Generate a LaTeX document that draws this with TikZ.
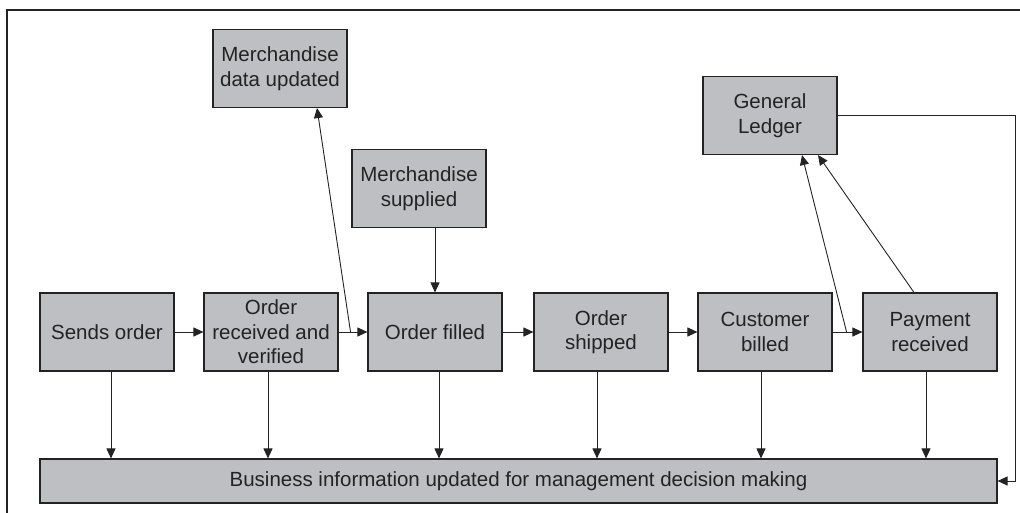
\documentclass[tikz,border=0pt]{standalone}
\usepackage{fontspec}
\setmainfont{Liberation Sans}
\usetikzlibrary{arrows.meta,calc}
\definecolor{boxfill}{RGB}{190,191,195}
\definecolor{ink}{RGB}{35,35,35}
\begin{document}
\begin{tikzpicture}[x=1pt,y=-1pt,
  box/.style={draw=ink,line width=1.1pt,fill=boxfill,minimum width=134pt,minimum height=78pt,
    inner sep=2pt,align=center,text=ink,font=\fontsize{20.5}{24.5}\selectfont},
  conn/.style={draw=ink,line width=0.9pt,-{Triangle[length=10pt,width=9pt]}},
  plain/.style={draw=ink,line width=0.9pt}]
\useasboundingbox (0,0) rectangle (1020,512);
\draw[line width=2pt,ink] (1022,10) -- (7,10) -- (7,514);
% main row
\node[box] (so) at (107,332) {Sends order};
\node[box] (or) at (271,332) {Order\\received and\\verified};
\node[box] (of) at (435,332) {Order filled};
\node[box] (os) at (601,332) {Order\\shipped};
\node[box] (cb) at (765,332) {Customer\\billed};
\node[box] (pr) at (930,332) {Payment\\received};
% upper boxes
\node[box] (mdu) at (280,68.5) {Merchandise\\data updated};
\node[box] (ms) at (419,188.5) {Merchandise\\supplied};
\node[box] (gl) at (770,115.5) {General\\Ledger};
% bar
\node[box,minimum width=957pt,minimum height=44pt] (bi) at (518.5,481) {Business information updated for management decision making};
% horizontal flow
\draw[conn] (so.east) -- (or.west);
\draw[conn] (or.east) -- (of.west);
\draw[conn] (of.east) -- (os.west);
\draw[conn] (os.east) -- (cb.west);
\draw[conn] (cb.east) -- (pr.west);
% branches
\coordinate (j1) at ($(or.east)+(12,0)$);
\coordinate (j2) at ($(cb.east)+(14,0)$);
\draw[conn] (j1) -- ([xshift=37pt]mdu.south);
\draw[conn] (j2) -- ([xshift=32pt]gl.south);
\draw[conn] ([xshift=-16pt]pr.north) -- ([xshift=48pt]gl.south);
\draw[conn] (of.north |- ms.south) -- (of.north);
% down arrows
\draw[conn] ([xshift=4pt]so.south) -- ([xshift=4pt]so.south |- bi.north);
\draw[conn] ([xshift=-3pt]or.south) -- ([xshift=-3pt]or.south |- bi.north);
\draw[conn] ([xshift=4pt]of.south) -- ([xshift=4pt]of.south |- bi.north);
\draw[conn] ([xshift=-4pt]os.south) -- ([xshift=-4pt]os.south |- bi.north);
\draw[conn] ([xshift=-4pt]cb.south) -- ([xshift=-4pt]cb.south |- bi.north);
\draw[conn] ([xshift=-4pt]pr.south) -- ([xshift=-4pt]pr.south |- bi.north);
% ledger feedback
\coordinate (c1) at ($(gl.east)+(178,0)$);
\draw[conn] (gl.east) -- (c1) |- (bi.east);
\end{tikzpicture}
\end{document}
